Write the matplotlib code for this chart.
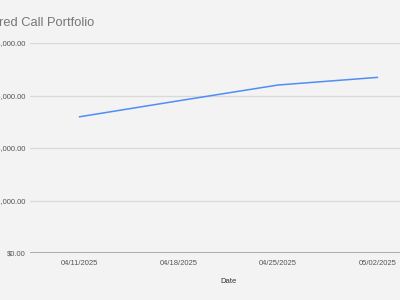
import matplotlib
matplotlib.use("Agg")
import matplotlib.pyplot as plt
from matplotlib.ticker import FuncFormatter

# Data
dates = ["04/11/2025", "04/18/2025", "04/25/2025", "05/02/2025"]
values = [5190, 5800, 6400, 6690]
y_ticks = [0, 2000, 4000, 6000, 8000]

W, H = 400, 300
bg = "#f3f3f3"
plt.rcParams["font.family"] = ["Liberation Sans", "DejaVu Sans"]

fig = plt.figure(figsize=(W / 100, H / 100), dpi=100, facecolor=bg)
# axes deliberately extends past the right edge, as in the cropped reference
left, right, top, bottom = 30, 427, 43, 253
ax = fig.add_axes([left / W, 1 - bottom / H, (right - left) / W, (bottom - top) / H])
ax.set_facecolor(bg)

x = list(range(len(dates)))
ax.plot(x, values, color="#4f8ef7", linewidth=1.1)

ax.set_xlim(-0.5, len(dates) - 0.5)
ax.set_ylim(0, 8000)
ax.set_yticks(y_ticks)
ax.yaxis.set_major_formatter(FuncFormatter(lambda v, _: f"${v:,.2f}"))
ax.set_xticks(x)
ax.set_xticklabels(dates)
ax.grid(axis="y", color="#d9d9d9", linewidth=0.9)
ax.axhline(0, color="#a0a0a0", linewidth=1.2)
for s in ax.spines.values():
    s.set_visible(False)
ax.tick_params(length=0, labelsize=5.5, labelcolor="#555555")
ax.tick_params(axis="y", pad=3)
ax.tick_params(axis="x", pad=5)
ax.set_xlabel("Date", fontsize=5.5, color="#333333", labelpad=8)

fig.text(-31 / W, 1 - 26 / H, "Covered Call Portfolio", fontsize=9.3,
         color="#777777", ha="left", va="baseline")

fig.savefig("out.png", dpi=100, facecolor=bg)
